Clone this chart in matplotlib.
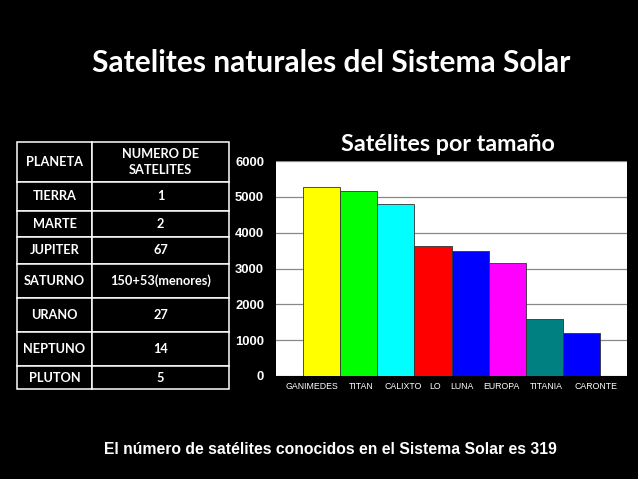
import matplotlib.pyplot as plt

# data
planetas = ["TIERRA", "MARTE", "JUPITER", "SATURNO", "URANO", "NEPTUNO", "PLUTON"]
num_satelites = ["1", "2", "67", "150+53(menores)", "27", "14", "5"]
satelites = ["GANIMEDES", "TITAN", "CALIXTO", "LO", "LUNA", "EUROPA", "TITANIA", "CARONTE"]
diametros = [5270, 5160, 4810, 3640, 3480, 3140, 1600, 1210]
colores = ["#ffff00", "#00ff00", "#00ffff", "#ff0000", "#0000ff", "#ff00ff", "#008080", "#0000ff"]

fig = plt.figure(figsize=(6.38, 4.79), dpi=100)
fig.patch.set_facecolor("black")

fig.text(0.519, 0.868, "Satelites naturales del Sistema Solar", color="white",
         fontsize=21.5, fontweight="bold", family="Lato", ha="center", va="center")
fig.text(0.518, 0.062, "El número de satélites conocidos en el Sistema Solar es 319",
         color="white", fontsize=11.3, fontweight="bold", family="Liberation Sans",
         ha="center", va="center")

# table
tax = fig.add_axes([17 / 638, 1 - 389 / 479, 212 / 638, 247 / 479])
tax.set_facecolor("black")
tax.axis("off")
filas = [[p, n] for p, n in zip(planetas, num_satelites)]
tabla = tax.table(cellText=filas, colLabels=["PLANETA", "NUMERO DE\nSATELITES"],
                  cellLoc="center", colWidths=[75, 137], bbox=[0, 0, 1, 1])
tabla.auto_set_font_size(False)
alturas = [40, 29, 26, 27, 34, 34, 34, 23]
for (r, c), cell in tabla.get_celld().items():
    cell.set_facecolor("black")
    cell.set_edgecolor("white")
    cell.set_linewidth(1.1)
    cell.set_height(alturas[r])
    t = cell.get_text()
    t.set_color("white")
    t.set_fontsize(9.2)
    t.set_fontweight("bold")
    t.set_family("Lato")
    if r == 0:
        t.set_linespacing(1.5)

# bar chart
ax = fig.add_axes([276 / 638, 1 - 376 / 479, 351 / 638, 215 / 479])
ax.set_facecolor("white")
x = range(len(satelites))
ax.bar(x, diametros, width=1.0, color=colores, edgecolor="#333333", linewidth=0.6, zorder=3)
ax.set_xlim(-1.24, 8.24)
ax.set_ylim(0, 6000)
ax.set_yticks(range(0, 7000, 1000))
ax.yaxis.grid(True, color="#888888", linewidth=0.9, zorder=0)
for s in ax.spines.values():
    s.set_visible(False)
ax.tick_params(axis="y", length=0, pad=8.6, colors="white", labelsize=9.4)
for lab in ax.get_yticklabels():
    lab.set_fontweight("bold")
    lab.set_family("Liberation Sans")
offsets = [-0.27, 0.05, 0.19, 0.05, -0.22, -0.14, 0.05, 0.4]
ax.set_xticks([i + o for i, o in zip(x, offsets)])
ax.set_xticklabels(satelites, fontsize=6.3, family="Liberation Sans", color="white")
ax.tick_params(axis="x", length=0, pad=4)
ax.set_title("Satélites por tamaño", color="white", fontsize=16.8, fontweight="bold",
             family="Lato", x=0.49, pad=7)

fig.savefig("out.png", dpi=100, facecolor="black")
